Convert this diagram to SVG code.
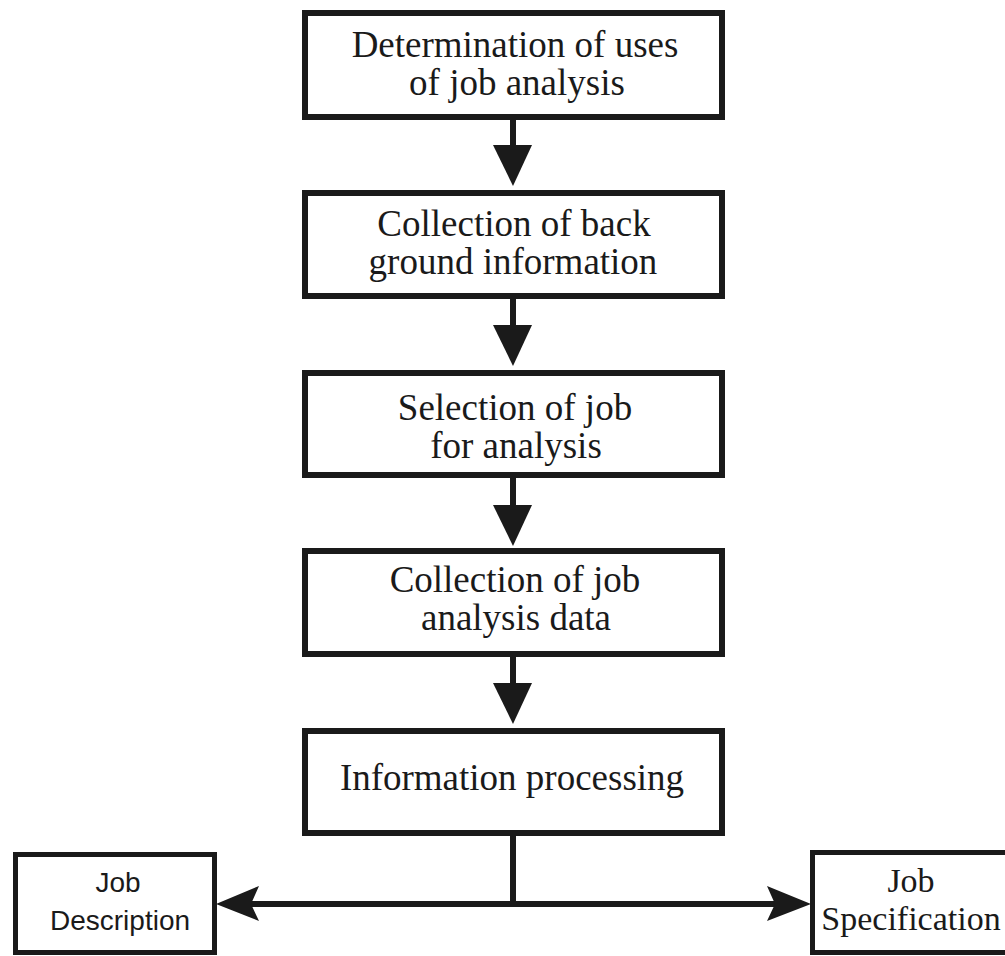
<svg xmlns="http://www.w3.org/2000/svg" width="1005" height="956" viewBox="0 0 1005 956">
<style>
.box{fill:#fff;stroke:#1a1a1a;stroke-width:6}
.sbox{fill:#fff;stroke:#1a1a1a;stroke-width:5}
.t{font-family:"Liberation Serif","Times New Roman",serif;font-size:37px;fill:#1a1a1a;text-anchor:middle}
.s{font-family:"Liberation Sans",Arial,sans-serif;font-size:28px;fill:#1a1a1a;text-anchor:middle}
.ln{stroke:#1a1a1a;stroke-width:6;fill:none}
.hd{fill:#1a1a1a}
</style>
<rect width="1005" height="956" fill="#fff"/>
<g id="connectors">
<line class="ln" x1="513" y1="120" x2="513" y2="148"/>
<path class="hd" d="M493,145 L532,145 L513,186 Z"/>
<line class="ln" x1="513" y1="299" x2="513" y2="328"/>
<path class="hd" d="M493,325 L532,325 L513,366 Z"/>
<line class="ln" x1="513" y1="478" x2="513" y2="508"/>
<path class="hd" d="M493,505 L532,505 L513,546 Z"/>
<line class="ln" x1="513" y1="657" x2="513" y2="686"/>
<path class="hd" d="M493,683 L532,683 L513,724 Z"/>
<line class="ln" x1="513" y1="836" x2="513" y2="904"/>
<line class="ln" x1="250" y1="904" x2="776" y2="904"/>
<path class="hd" d="M216,904 L259,886 L251,904 L259,921 Z"/>
<path class="hd" d="M811,904 L767,886 L775,904 L767,921 Z"/>
</g>
<g id="n1">
<rect class="box" x="305" y="13" width="417" height="104"/>
<text class="t" x="515" y="57">Determination of uses</text>
<text class="t" x="517" y="95">of job analysis</text>
</g>
<g id="n2">
<rect class="box" x="305" y="193" width="417" height="103"/>
<text class="t" x="514" y="236">Collection of back</text>
<text class="t" x="513" y="274">ground information</text>
</g>
<g id="n3">
<rect class="box" x="305" y="373" width="417" height="102"/>
<text class="t" x="515" y="420">Selection of job</text>
<text class="t" x="516" y="458">for analysis</text>
</g>
<g id="n4">
<rect class="box" x="305" y="551" width="417" height="103"/>
<text class="t" x="515" y="592">Collection of job</text>
<text class="t" x="516" y="630">analysis data</text>
</g>
<g id="n5">
<rect class="box" x="305" y="731" width="417" height="102"/>
<text class="t" x="512" y="790">Information processing</text>
</g>
<g id="n6">
<rect class="sbox" x="15.5" y="854.5" width="199" height="98"/>
<text class="s" x="118" y="892">Job</text>
<text class="s" x="120" y="930">Description</text>
</g>
<g id="n7">
<rect class="sbox" x="812.5" y="852.5" width="200" height="100"/>
<text class="t" x="911" y="892" style="font-size:34px">Job</text>
<text class="t" x="911" y="930" style="font-size:34px">Specification</text>
</g>
</svg>
